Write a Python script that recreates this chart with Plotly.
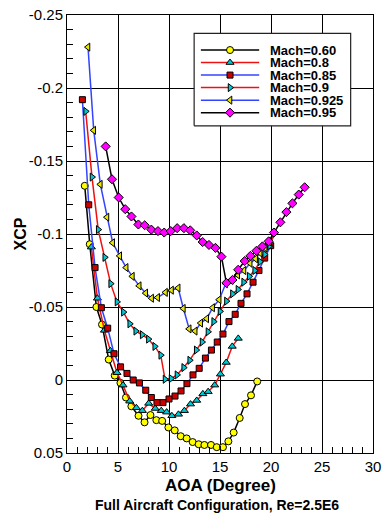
import plotly.graph_objects as go

# ---- data: angle of attack (deg) and centre-of-pressure XCP per Mach number ----
aoa_060 = [1.74, 2.23, 2.88, 3.43, 4.09, 4.68, 5.24, 5.78, 6.31, 7.01, 7.60, 8.18, 8.76, 9.33, 9.94,
           10.56, 11.15, 11.73, 12.32, 12.91, 13.47, 14.12, 14.68, 15.29, 15.82, 16.34, 16.93, 17.45, 18.04, 18.65]
xcp_060 = [-0.133, -0.093, -0.050, -0.038, -0.014, -0.003, 0.002, 0.012, 0.018, 0.0245, 0.029, 0.024, 0.0275, 0.028, 0.0325,
           0.0345, 0.0385, 0.040, 0.0425, 0.044, 0.0445, 0.0445, 0.046, 0.046, 0.042, 0.036, 0.026, 0.0165, 0.0105, 0.001]

aoa_080 = [2.39, 2.98, 3.67, 4.25, 4.90, 5.49, 6.15, 6.80, 7.39, 8.01, 8.65, 9.24, 9.77, 10.28, 10.93,
           11.51, 12.11, 12.72, 13.32, 13.84, 14.48, 15.04, 15.61, 16.20, 16.79]
xcp_080 = [-0.091, -0.056, -0.034, -0.020, -0.005, 0.0035, 0.0145, 0.019, 0.021, 0.016, 0.0195, 0.021, 0.022, 0.0245, 0.0235,
           0.021, 0.0165, 0.014, 0.0095, 0.008, 0.0035, -0.004, -0.012, -0.023, -0.0285]

aoa_085 = [1.51, 2.13, 2.75, 3.37, 3.99, 4.61, 5.25, 5.88, 6.49, 7.10, 7.72, 8.27, 8.82, 9.41, 10.00, 10.59,
           11.18, 11.76, 12.35, 12.96, 13.57, 14.16, 14.73, 15.29, 15.88, 16.49, 17.06, 17.65, 18.24, 18.82, 19.38, 19.97]
xcp_085 = [-0.192, -0.120, -0.077, -0.0495, -0.0355, -0.018, -0.009, -0.0045, 0.0, 0.002, 0.007, 0.012, 0.0155, 0.0155, 0.013, 0.011,
           0.0075, 0.0025, -0.0035, -0.008, -0.015, -0.0205, -0.026, -0.0315, -0.040, -0.045, -0.0525, -0.059, -0.067, -0.075, -0.0835, -0.092]

aoa_090 = [1.83, 2.45, 3.06, 3.70, 4.28, 4.90, 5.53, 6.15, 6.74, 7.37, 7.98, 8.60, 9.19, 9.61, 10.20, 10.78,
           11.44, 12.03, 12.67, 13.24, 13.82, 14.38, 15.00, 15.63, 16.22, 16.76, 17.32, 17.86, 18.40, 18.92, 19.38, 19.87, 20.36]
xcp_090 = [-0.184, -0.139, -0.103, -0.084, -0.066, -0.0535, -0.0465, -0.0385, -0.0335, -0.031, -0.028, -0.023, -0.017, -0.0005, -0.001, -0.0035,
           -0.0085, -0.0135, -0.0205, -0.026, -0.033, -0.040, -0.047, -0.054, -0.059, -0.062, -0.067, -0.071, -0.075, -0.081, -0.086, -0.092, -0.1005]

aoa_0925 = [2.06, 2.62, 3.27, 3.92, 4.48, 5.17, 5.80, 6.41, 7.08, 7.72, 8.30, 8.89, 9.66, 10.25, 10.90, 11.41,
            11.98, 12.57, 13.11, 13.70, 14.28, 14.92, 15.56, 16.13, 16.74, 17.35, 17.96, 18.50, 18.94, 19.43, 19.87]
xcp_0925 = [-0.228, -0.171, -0.134, -0.1115, -0.094, -0.085, -0.077, -0.071, -0.0645, -0.0595, -0.056, -0.0565, -0.060, -0.0615, -0.063, -0.049,
            -0.035, -0.0335, -0.039, -0.042, -0.0495, -0.055, -0.066, -0.0685, -0.072, -0.075, -0.080, -0.083, -0.087, -0.0905, -0.0945]

aoa_095 = [3.79, 4.41, 5.07, 5.71, 6.32, 7.00, 7.62, 8.27, 8.92, 9.53, 10.17, 10.80, 11.46, 12.08, 12.72, 13.30, 13.92,
           14.55, 15.14, 15.63, 16.22, 16.78, 17.42, 17.98, 18.57, 19.16, 19.77, 20.29, 20.92, 21.51, 22.10, 22.72, 23.30]
xcp_095 = [-0.160, -0.1375, -0.125, -0.117, -0.112, -0.1065, -0.106, -0.103, -0.102, -0.101, -0.102, -0.104, -0.104, -0.1025, -0.099, -0.0945, -0.0925,
           -0.0905, -0.0845, -0.0665, -0.0685, -0.0755, -0.0815, -0.085, -0.0885, -0.0915, -0.095, -0.101, -0.108, -0.115, -0.121, -0.127, -0.132]

series_names = ["Mach=0.60", "Mach=0.8", "Mach=0.85", "Mach=0.9", "Mach=0.925", "Mach=0.95"]
series_x = [aoa_060, aoa_080, aoa_085, aoa_090, aoa_0925, aoa_095]
series_y = [xcp_060, xcp_080, xcp_085, xcp_090, xcp_0925, xcp_095]

x_ticks = [0, 5, 10, 15, 20, 25, 30]
y_ticks = [-0.25, -0.2, -0.15, -0.1, -0.05, 0, 0.05]
y_tick_text = ["-0.25", "-0.2", "-0.15", "-0.1", "-0.05", "0", "0.05"]

# ---- styles ----
line_colors = ["#000000", "#ee1111", "#3344ff", "#ee1111", "#3344ff", "#000000"]
marker_colors = ["#ffff00", "#00c8d2", "#cc0000", "#00c8d2", "#e6e600", "#ff00ff"]
marker_symbols = ["circle", "triangle-up", "square", "triangle-right", "triangle-left", "diamond"]
marker_sizes = [7, 7, 6, 7, 7, 7]

FONT = "Liberation Sans, Arial, sans-serif"
X_RANGE = [0, 30]
Y_RANGE = [0.05, -0.25]   # reversed: negative XCP upward

fig = go.Figure()

for name, xs, ys, lc, mc, ms, sz in zip(series_names, series_x, series_y, line_colors,
                                         marker_colors, marker_symbols, marker_sizes):
    fig.add_trace(go.Scatter(
        x=xs, y=ys, name=name, mode="lines+markers", showlegend=False,
        line=dict(color=lc, width=1.5),
        marker=dict(symbol=ms, size=sz, color=mc, line=dict(color="#000000", width=1)),
    ))

# ---- boxed key inside the plot area (positions given as fractions of the axes) ----
def fx(f):
    return X_RANGE[0] + f * (X_RANGE[1] - X_RANGE[0])

def fy(f):
    return Y_RANGE[0] + f * (Y_RANGE[1] - Y_RANGE[0])

key_left, key_right, key_bottom, key_top = 0.4155, 0.927, 0.747, 0.958
seg_x0, seg_x1, text_x = 0.4375, 0.628, 0.66
row_top, row_step = 0.920, 0.0286

# white key box: a filled closed path so it sits above the grid and below the key samples
fig.add_trace(go.Scatter(
    x=[fx(key_left), fx(key_right), fx(key_right), fx(key_left), fx(key_left)],
    y=[fy(key_bottom), fy(key_bottom), fy(key_top), fy(key_top), fy(key_bottom)],
    mode="lines", fill="toself", fillcolor="white",
    line=dict(color="#222222", width=1.2), showlegend=False, hoverinfo="skip"))

for i, (name, lc, mc, ms, sz) in enumerate(zip(series_names, line_colors, marker_colors,
                                               marker_symbols, marker_sizes)):
    ry = row_top - i * row_step
    fig.add_trace(go.Scatter(
        x=[fx(seg_x0), fx(seg_x1)], y=[fy(ry), fy(ry)], mode="lines", showlegend=False,
        line=dict(color=lc, width=1.5), hoverinfo="skip"))
    fig.add_trace(go.Scatter(
        x=[fx((seg_x0 + seg_x1) / 2)], y=[fy(ry)], mode="markers", showlegend=False,
        marker=dict(symbol=ms, size=sz, color=mc, line=dict(color="#000000", width=1)),
        hoverinfo="skip"))
    fig.add_annotation(x=text_x, y=ry, xref="x domain", yref="y domain", text=name,
                       showarrow=False, xanchor="left", yanchor="middle", borderpad=0,
                       font=dict(family=FONT, size=13, color="black", weight="bold"))

axis_common = dict(
    showline=True, linecolor="black", linewidth=1, mirror=True,
    showgrid=True, gridcolor="black", gridwidth=1, zeroline=False,
    ticks="inside", ticklen=7, tickcolor="black", tickwidth=1,
    tickfont=dict(family=FONT, size=15, color="black"),
    automargin=False,
)

fig.update_xaxes(range=X_RANGE, tickmode="array", tickvals=x_ticks,
                 minor=dict(dtick=1, ticks="inside", ticklen=6, tickcolor="black", showgrid=False),
                 **axis_common)
fig.update_yaxes(range=Y_RANGE, tickmode="array", tickvals=y_ticks, ticktext=y_tick_text,
                 minor=dict(dtick=0.01, tick0=0, ticks="inside", ticklen=6, tickcolor="black", showgrid=False),
                 **axis_common)

# axis titles and caption
fig.add_annotation(x=0.5, y=-0.074, xref="paper", yref="paper", text="AOA (Degree)",
                   showarrow=False, xanchor="center", yanchor="middle", borderpad=0,
                   font=dict(family=FONT, size=17, color="black", weight="bold"))
fig.add_annotation(x=-0.152, y=0.5, xref="paper", yref="paper", text="XCP", textangle=-90,
                   showarrow=False, xanchor="center", yanchor="middle",
                   font=dict(family=FONT, size=16, color="black", weight="bold"))
fig.add_annotation(x=0.49, y=-0.118, xref="paper", yref="paper",
                   text="Full Aircraft Configuration, Re=2.5E6",
                   showarrow=False, xanchor="center", yanchor="middle", borderpad=0,
                   font=dict(family=FONT, size=14, color="black", weight="bold"))

fig.update_layout(
    width=383, height=515,
    margin=dict(l=67, r=10, t=15, b=62, autoexpand=False),
    plot_bgcolor="white", paper_bgcolor="white",
    font=dict(family=FONT, color="black"),
    showlegend=False,
)

fig.write_html("out.html")
